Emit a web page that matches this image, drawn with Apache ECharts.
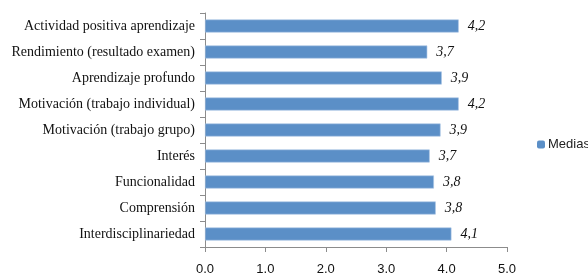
<!DOCTYPE html>
<html>
<head>
<meta charset="utf-8">
<script src="https://cdn.jsdelivr.net/npm/echarts@6/dist/echarts.min.js"></script>
<style>
  html, body { margin: 0; padding: 0; background: #fff; }
  #main { width: 588px; height: 276px; }
</style>
</head>
<body>
<div id="main"></div>
<script>
// categorías (de arriba hacia abajo)
const categories = [
    'Actividad positiva aprendizaje',
    'Rendimiento (resultado examen)',
    'Aprendizaje profundo',
    'Motivación (trabajo individual)',
    'Motivación (trabajo grupo)',
    'Interés',
    'Funcionalidad',
    'Comprensión',
    'Interdisciplinariedad'
];
// medias
const medias = [4.2, 3.68, 3.92, 4.2, 3.9, 3.72, 3.79, 3.82, 4.08];
const seriesName = 'Medias';
const xTicks = [0, 1, 2, 3, 4, 5];

const myChart = echarts.init(document.getElementById('main'));

const option = {
    animation: false,
    grid: { left: 205, right: 81, top: 13, bottom: 29 },
    legend: {
        data: [seriesName],
        left: 532,
        top: 133,
        itemWidth: 8,
        itemHeight: 8,
        itemGap: 4,
        itemStyle: { borderWidth: 0 },
        textStyle: { fontFamily: 'Liberation Sans', fontSize: 13, color: '#222', padding: [0, 0, 0, -2] }
    },
    xAxis: {
        type: 'value',
        min: xTicks[0],
        max: xTicks[xTicks.length - 1],
        interval: 1,
        axisLine: { show: true, lineStyle: { color: '#8c8c8c' } },
        axisTick: { show: true, length: 5, lineStyle: { color: '#8c8c8c' } },
        splitLine: { show: false },
        axisLabel: {
            margin: 16,
            fontFamily: 'Liberation Sans',
            fontSize: 13,
            color: '#111',
            formatter: v => v.toFixed(1)
        }
    },
    yAxis: {
        type: 'category',
        inverse: true,
        data: categories,
        axisLine: { show: true, lineStyle: { color: '#8c8c8c' } },
        axisTick: { show: true, length: 5, lineStyle: { color: '#8c8c8c' } },
        axisLabel: {
            margin: 10,
            fontFamily: 'Liberation Serif',
            fontSize: 14,
            color: '#111'
        }
    },
    series: [{
        name: seriesName,
        type: 'bar',
        data: medias,
        barCategoryGap: '50%',
        itemStyle: { color: '#5b8fc7', borderColor: '#a9c4e4', borderWidth: 0.6 },
        label: {
            show: true,
            position: 'right',
            distance: 9,
            fontFamily: 'Liberation Serif',
            fontStyle: 'italic',
            fontSize: 14,
            color: '#111',
            formatter: p => p.value.toFixed(1).replace('.', ',')
        }
    }]
};

myChart.setOption(option);
</script>
</body>
</html>
